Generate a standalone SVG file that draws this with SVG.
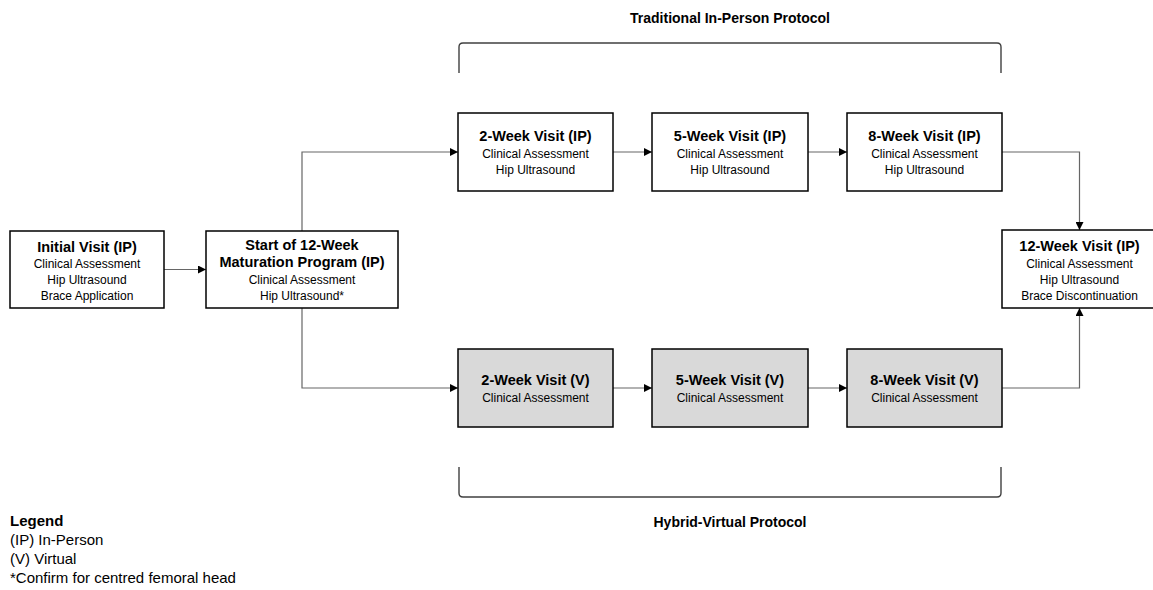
<svg xmlns="http://www.w3.org/2000/svg" width="1153" height="590" viewBox="0 0 1153 590">
<style>
  .box { fill: #ffffff; stroke: #000000; stroke-width: 1.5; }
  .vbox { fill: #d9d9d9; stroke: #000000; stroke-width: 1.5; }
  .t { font-family: "Liberation Sans", Arial, sans-serif; font-size: 14.5px; font-weight: bold; fill: #000000; text-anchor: middle; }
  .s { font-family: "Liberation Sans", Arial, sans-serif; font-size: 12px; fill: #000000; text-anchor: middle; }
  .conn { fill: none; stroke: #666666; stroke-width: 1.2; }
  .brk { fill: none; stroke: #404040; stroke-width: 1.4; }
  .lbl { font-family: "Liberation Sans", Arial, sans-serif; font-size: 14px; font-weight: bold; fill: #000000; text-anchor: middle; }
  .lg { font-family: "Liberation Sans", Arial, sans-serif; font-size: 15px; fill: #000000; }
</style>
<defs>
  <marker id="arr" viewBox="0 0 10 10" refX="10" refY="5" markerWidth="8" markerHeight="8" markerUnits="userSpaceOnUse" orient="auto">
    <path d="M0,0 L10,5 L0,10 Z" fill="#000000"/>
  </marker>
</defs>

<rect width="1153" height="590" fill="#ffffff"/>

<g id="labels">
  <text class="lbl" x="730" y="23">Traditional In-Person Protocol</text>
  <text class="lbl" x="730" y="527">Hybrid-Virtual Protocol</text>
  <path class="brk" d="M459,73 L459,47 Q459,43 463,43 L997,43 Q1001,43 1001,47 L1001,73"/>
  <path class="brk" d="M459,467 L459,493 Q459,497 463,497 L997,497 Q1001,497 1001,493 L1001,467"/>
</g>

<g id="connectors">
  <line class="conn" x1="164" y1="269.5" x2="206" y2="269.5" marker-end="url(#arr)"/>
  <polyline class="conn" points="302,231 302,152 458,152" marker-end="url(#arr)"/>
  <polyline class="conn" points="302,308 302,388 458,388" marker-end="url(#arr)"/>
  <line class="conn" x1="613" y1="152" x2="652" y2="152" marker-end="url(#arr)"/>
  <line class="conn" x1="808" y1="152" x2="847" y2="152" marker-end="url(#arr)"/>
  <line class="conn" x1="613" y1="388" x2="652" y2="388" marker-end="url(#arr)"/>
  <line class="conn" x1="808" y1="388" x2="847" y2="388" marker-end="url(#arr)"/>
  <polyline class="conn" points="1002,152 1079.5,152 1079.5,230" marker-end="url(#arr)"/>
  <polyline class="conn" points="1002,388 1079.5,388 1079.5,308" marker-end="url(#arr)"/>
</g>

<g id="initial">
  <rect class="box" x="10" y="231" width="154" height="77"/>
  <text class="t" x="87" y="252">Initial Visit (IP)</text>
  <text class="s" x="87" y="268">Clinical Assessment</text>
  <text class="s" x="87" y="284">Hip Ultrasound</text>
  <text class="s" x="87" y="300">Brace Application</text>
</g>

<g id="start">
  <rect class="box" x="206" y="231" width="192" height="77"/>
  <text class="t" x="302" y="250">Start of 12-Week</text>
  <text class="t" x="302" y="267">Maturation Program (IP)</text>
  <text class="s" x="302" y="284">Clinical Assessment</text>
  <text class="s" x="302" y="300">Hip Ultrasound*</text>
</g>

<g id="ip2">
  <rect class="box" x="458" y="113" width="155" height="78"/>
  <text class="t" x="535.5" y="141">2-Week Visit (IP)</text>
  <text class="s" x="535.5" y="158">Clinical Assessment</text>
  <text class="s" x="535.5" y="174">Hip Ultrasound</text>
</g>

<g id="ip5">
  <rect class="box" x="652" y="113" width="156" height="78"/>
  <text class="t" x="730" y="141">5-Week Visit (IP)</text>
  <text class="s" x="730" y="158">Clinical Assessment</text>
  <text class="s" x="730" y="174">Hip Ultrasound</text>
</g>

<g id="ip8">
  <rect class="box" x="847" y="113" width="155" height="78"/>
  <text class="t" x="924.5" y="141">8-Week Visit (IP)</text>
  <text class="s" x="924.5" y="158">Clinical Assessment</text>
  <text class="s" x="924.5" y="174">Hip Ultrasound</text>
</g>

<g id="v2">
  <rect class="vbox" x="458" y="349" width="155" height="78"/>
  <text class="t" x="535.5" y="385">2-Week Visit (V)</text>
  <text class="s" x="535.5" y="402">Clinical Assessment</text>
</g>

<g id="v5">
  <rect class="vbox" x="652" y="349" width="156" height="78"/>
  <text class="t" x="730" y="385">5-Week Visit (V)</text>
  <text class="s" x="730" y="402">Clinical Assessment</text>
</g>

<g id="v8">
  <rect class="vbox" x="847" y="349" width="155" height="78"/>
  <text class="t" x="924.5" y="385">8-Week Visit (V)</text>
  <text class="s" x="924.5" y="402">Clinical Assessment</text>
</g>

<g id="final">
  <rect class="box" x="1002" y="230" width="155" height="78"/>
  <text class="t" x="1079.5" y="251">12-Week Visit (IP)</text>
  <text class="s" x="1079.5" y="268">Clinical Assessment</text>
  <text class="s" x="1079.5" y="284">Hip Ultrasound</text>
  <text class="s" x="1079.5" y="300">Brace Discontinuation</text>
</g>

<g id="legend">
  <text class="lg" x="10" y="526" font-weight="bold">Legend</text>
  <text class="lg" x="10" y="545">(IP) In-Person</text>
  <text class="lg" x="10" y="564">(V) Virtual</text>
  <text class="lg" x="10" y="583">*Confirm for centred femoral head</text>
</g>
</svg>
